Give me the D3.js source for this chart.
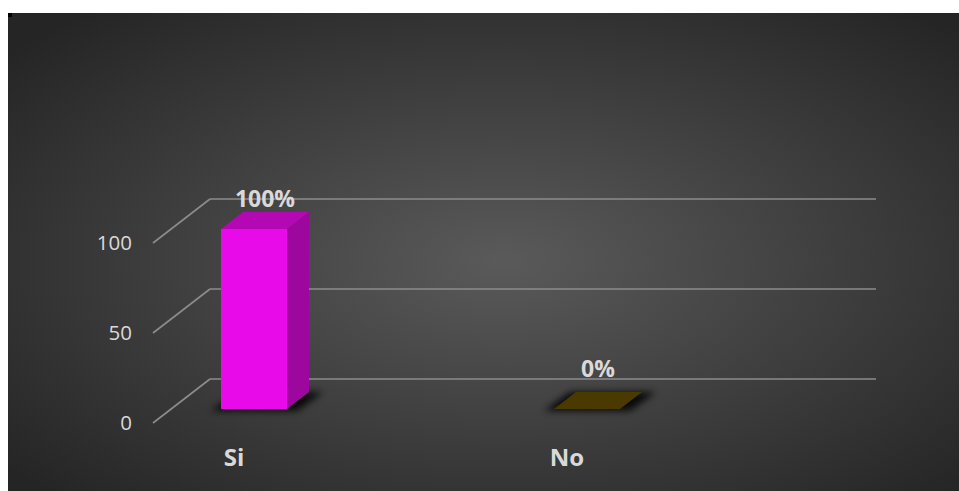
<!DOCTYPE html>
<html>
<head>
<meta charset="utf-8">
<script src="https://cdn.jsdelivr.net/npm/d3@7"></script>
<style>
  html, body { margin: 0; padding: 0; background: #ffffff; }
  svg { display: block; }
</style>
</head>
<body>
<svg id="chart" width="959" height="491"></svg>
<script>
const categories = ["Si", "No"];
const values = [100, 0];
const valueLabels = ["100%", "0%"];
const yTicks = [0, 50, 100];
const barColors = ["#e80ae8", "#604a00"];

const svg = d3.select("#chart");
const defs = svg.append("defs");

const grad = defs.append("radialGradient").attr("id", "bg")
  .attr("cx", "52%").attr("cy", "52%").attr("r", "68%");
grad.append("stop").attr("offset", "0%").attr("stop-color", "#5a5a5a");
grad.append("stop").attr("offset", "100%").attr("stop-color", "#252525");

const blur = defs.append("filter").attr("id", "shadow")
  .attr("x", "-50%").attr("y", "-50%").attr("width", "200%").attr("height", "200%");
blur.append("feGaussianBlur").attr("stdDeviation", 3.5);

// panel
svg.append("rect").attr("x", 8).attr("y", 13).attr("width", 951).attr("height", 478)
  .attr("fill", "url(#bg)");
svg.append("rect").attr("x", 8).attr("y", 13).attr("width", 4).attr("height", 4).attr("fill", "#000");

// geometry
const frontY0 = 423, backY0 = 379;
const wallLeft = 210, wallRight = 876, frontLeft = 153;
const h = d3.scaleLinear().domain([0, 100]).range([0, 180]);
const x = d3.scalePoint().domain(categories).range([254, 587]);
const barHalf = 33, bdx = 22, bdy = -17, barBase = 409;

// gridlines
const grid = svg.append("g");
yTicks.forEach(t => {
  grid.append("line")
    .attr("x1", wallLeft).attr("x2", wallRight)
    .attr("y1", backY0 - h(t)).attr("y2", backY0 - h(t))
    .attr("stroke", "#8c8c8c").attr("stroke-width", 1.6);
  grid.append("line")
    .attr("x1", frontLeft).attr("y1", frontY0 - h(t))
    .attr("x2", wallLeft).attr("y2", backY0 - h(t))
    .attr("stroke", "#8c8c8c").attr("stroke-width", 1.6);
});

// axis labels
svg.append("g").selectAll("text").data(yTicks).join("text")
  .attr("x", 132).attr("y", d => frontY0 - h(d))
  .attr("dy", "0.36em")
  .attr("text-anchor", "end")
  .attr("font-family", "Open Sans, sans-serif").attr("font-size", 20.5)
  .attr("fill", "#d9d9d9")
  .text(d => d);

// shadows
const pts = a => a.map(p => p.join(",")).join(" ");
svg.append("g").selectAll("polygon").data(categories).join("polygon")
  .attr("points", d => {
    const c = x(d);
    return pts([[c - barHalf - 10, barBase + 2], [c + barHalf + 10, barBase + 2],
                [c + barHalf + bdx + 14, barBase + bdy], [c - barHalf + bdx - 6, barBase + bdy]]);
  })
  .attr("fill", "#000").attr("opacity", 0.85).attr("filter", "url(#shadow)");

// bars
const bars = svg.append("g").selectAll("g").data(categories).join("g");
bars.each(function(d, i) {
  const g = d3.select(this);
  const c = x(d), hh = h(values[i]);
  const col = d3.color(barColors[i]);
  const top = barBase - hh;
  if (hh > 0) {
    g.append("polygon")
      .attr("points", pts([[c + barHalf, top], [c + barHalf + bdx, top + bdy],
                           [c + barHalf + bdx, barBase + bdy], [c + barHalf, barBase]]))
      .attr("fill", col.darker(1.1));
    g.append("rect")
      .attr("x", c - barHalf).attr("y", top).attr("width", barHalf * 2).attr("height", hh)
      .attr("fill", col);
  }
  g.append("polygon")
    .attr("points", pts([[c - barHalf, top], [c - barHalf + bdx, top + bdy],
                         [c + barHalf + bdx, top + bdy], [c + barHalf, top]]))
    .attr("fill", col.darker(0.7));
});

// value labels
svg.append("g").selectAll("text").data(categories).join("text")
  .attr("x", d => x(d) + 11)
  .attr("y", (d, i) => Math.min(barBase + bdy - 5 - h(values[i]), 377))
  .attr("text-anchor", "middle")
  .attr("font-family", "Open Sans, sans-serif").attr("font-weight", "bold").attr("font-size", 23)
  .attr("fill", "#d9d9d9")
  .text((d, i) => valueLabels[i]);

// category labels
svg.append("g").selectAll("text").data(categories).join("text")
  .attr("x", d => x(d) - 20)
  .attr("y", 466)
  .attr("text-anchor", "middle")
  .attr("font-family", "Open Sans, sans-serif").attr("font-weight", "bold").attr("font-size", 24)
  .attr("fill", "#d9d9d9")
  .text(d => d);
</script>
</body>
</html>
